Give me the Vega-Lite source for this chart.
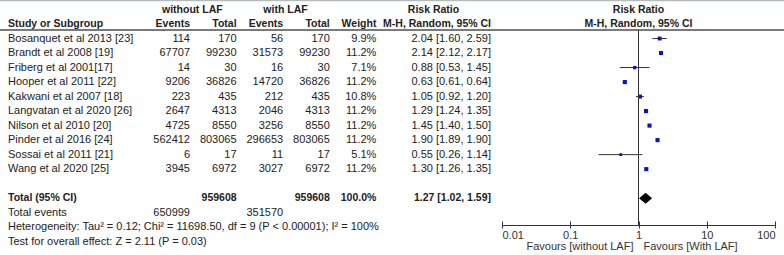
{
  "$schema": "https://vega.github.io/schema/vega-lite/v6.json",
  "width": 784,
  "height": 255,
  "padding": 0,
  "autosize": {"type": "none"},
  "background": "white",
  "config": {
    "view": {"stroke": null},
    "text": {"font": "Liberation Sans", "fontSize": 11, "color": "#222"},
    "axis": {"labelFont": "Liberation Sans", "labelFontSize": 11}
  },
  "datasets": {
    "rows": [
      {"key": "Bosanquet et al 2013 [23]", "kind": "study", "e1": 114, "t1": 170, "e2": 56, "t2": 170, "weight": 9.9, "rr": 2.04, "lo": 1.60, "hi": 2.59},
      {"key": "Brandt et al 2008 [19]", "kind": "study", "e1": 67707, "t1": 99230, "e2": 31573, "t2": 99230, "weight": 11.2, "rr": 2.14, "lo": 2.12, "hi": 2.17},
      {"key": "Friberg et al 2001[17]", "kind": "study", "e1": 14, "t1": 30, "e2": 16, "t2": 30, "weight": 7.1, "rr": 0.88, "lo": 0.53, "hi": 1.45},
      {"key": "Hooper et al 2011 [22]", "kind": "study", "e1": 9206, "t1": 36826, "e2": 14720, "t2": 36826, "weight": 11.2, "rr": 0.63, "lo": 0.61, "hi": 0.64},
      {"key": "Kakwani et al 2007 [18]", "kind": "study", "e1": 223, "t1": 435, "e2": 212, "t2": 435, "weight": 10.8, "rr": 1.05, "lo": 0.92, "hi": 1.20},
      {"key": "Langvatan et al 2020 [26]", "kind": "study", "e1": 2647, "t1": 4313, "e2": 2046, "t2": 4313, "weight": 11.2, "rr": 1.29, "lo": 1.24, "hi": 1.35},
      {"key": "Nilson et al 2010 [20]", "kind": "study", "e1": 4725, "t1": 8550, "e2": 3256, "t2": 8550, "weight": 11.2, "rr": 1.45, "lo": 1.40, "hi": 1.50},
      {"key": "Pinder et al 2016 [24]", "kind": "study", "e1": 562412, "t1": 803065, "e2": 296653, "t2": 803065, "weight": 11.2, "rr": 1.90, "lo": 1.89, "hi": 1.90},
      {"key": "Sossai et al 2011 [21]", "kind": "study", "e1": 6, "t1": 17, "e2": 11, "t2": 17, "weight": 5.1, "rr": 0.55, "lo": 0.26, "hi": 1.14},
      {"key": "Wang et al 2020 [25]", "kind": "study", "e1": 3945, "t1": 6972, "e2": 3027, "t2": 6972, "weight": 11.2, "rr": 1.30, "lo": 1.26, "hi": 1.35},
      {"key": "Total (95% CI)", "kind": "total", "t1": 959608, "t2": 959608, "weight": 100, "rr": 1.27, "lo": 1.02, "hi": 1.59},
      {"key": "Total events", "kind": "events", "e1": 650999, "e2": 351570},
      {"key": "Heterogeneity: Tau² = 0.12; Chi² = 11698.50, df = 9 (P < 0.00001); I² = 100%", "kind": "note"},
      {"key": "Test for overall effect: Z = 2.11 (P = 0.03)", "kind": "note"}
    ],
    "headers": [
      {"key": "hdr1", "col": "t1", "text": "without LAF"},
      {"key": "hdr1", "col": "t2", "text": "with LAF"},
      {"key": "hdr2", "col": "e1", "text": "Events"},
      {"key": "hdr2", "col": "t1", "text": "Total"},
      {"key": "hdr2", "col": "e2", "text": "Events"},
      {"key": "hdr2", "col": "t2", "text": "Total"},
      {"key": "hdr2", "col": "wl", "text": "Weight"},
      {"key": "hdr2", "col": "study", "text": "Study or Subgroup"},
      {"key": "hdr1", "col": "ci", "text": "Risk Ratio"},
      {"key": "hdr2", "col": "ci", "text": "M-H, Random, 95% CI"},
      {"key": "hdr1", "col": "forest", "text": "Risk Ratio"},
      {"key": "hdr2", "col": "forest", "text": "M-H, Random, 95% CI"},
      {"key": "Test for overall effect: Z = 2.11 (P = 0.03)", "col": "forest_l", "text": "Favours [without LAF]"},
      {"key": "Test for overall effect: Z = 2.11 (P = 0.03)", "col": "forest_r", "text": "Favours [With LAF]"}
    ]
  },
  "data": {"name": "rows"},
  "encoding": {
    "y": {
      "field": "key", "type": "nominal", "axis": null,
      "scale": {
        "type": "point",
        "domain": ["hdr1", "hdr2", "Bosanquet et al 2013 [23]", "Brandt et al 2008 [19]", "Friberg et al 2001[17]", "Hooper et al 2011 [22]", "Kakwani et al 2007 [18]", "Langvatan et al 2020 [26]", "Nilson et al 2010 [20]", "Pinder et al 2016 [24]", "Sossai et al 2011 [21]", "Wang et al 2020 [25]", "gap", "Total (95% CI)", "Total events", "Heterogeneity: Tau² = 0.12; Chi² = 11698.50, df = 9 (P < 0.00001); I² = 100%", "Test for overall effect: Z = 2.11 (P = 0.03)"],
        "padding": 0.786,
        "align": 0.417
      }
    }
  },
  "resolve": {"scale": {"x": "independent"}, "axis": {"x": "independent"}},
  "layer": [
    {
      "data": {"values": [{}]},
      "mark": {"type": "rule", "color": "#b4bcbc", "strokeWidth": 1.5, "yOffset": -9},
      "encoding": {"y": {"datum": "hdr1"}}
    },
    {
      "data": {"values": [{}]},
      "mark": {"type": "rule", "color": "#7a7a7a", "strokeWidth": 2, "yOffset": -8.5},
      "encoding": {"y": {"datum": "Bosanquet et al 2013 [23]"}}
    },
    {
      "layer": [
        {
          "transform": [{"filter": "datum.kind !== 'total'"}],
          "mark": {"type": "text", "align": "left"},
          "encoding": {
            "x": {"datum": "study", "type": "nominal", "bandPosition": 0, "axis": null, "scale": {"type": "band", "domain": ["study"], "range": [8, 143], "paddingInner": 0, "paddingOuter": 0}},
            "text": {"field": "key"}
          }
        },
        {
          "transform": [{"filter": "datum.kind === 'total'"}],
          "mark": {"type": "text", "align": "left", "fontWeight": "bold", "fontSize": 10.5},
          "encoding": {
            "x": {"datum": "study", "type": "nominal", "bandPosition": 0, "axis": null, "scale": {"type": "band", "domain": ["study"], "range": [8, 143], "paddingInner": 0, "paddingOuter": 0}},
            "text": {"field": "key"}
          }
        },
        {
          "data": {"name": "headers"},
          "transform": [{"filter": "datum.col === 'study'"}],
          "mark": {"type": "text", "align": "left", "fontWeight": "bold", "fontSize": 10.5},
          "encoding": {
            "x": {"datum": "study", "type": "nominal", "bandPosition": 0, "axis": null, "scale": {"type": "band", "domain": ["study"], "range": [8, 143], "paddingInner": 0, "paddingOuter": 0}},
            "text": {"field": "text"}
          }
        }
      ]
    },
    {
      "layer": [
        {
          "transform": [
            {"calculate": "isValid(datum.weight) ? format(datum.weight, '.1f') + '%' : null", "as": "wl"},
            {"fold": ["e1", "t1", "e2", "t2", "wl"], "as": ["col", "val"]},
            {"filter": "isValid(datum.val) && datum.kind !== 'total'"}
          ],
          "mark": {"type": "text", "align": "right"},
          "encoding": {
            "x": {"field": "col", "type": "nominal", "bandPosition": 1, "axis": null, "scale": {"type": "band", "domain": ["e1", "t1", "e2", "t2", "wl"], "range": [143.4, 376.4], "paddingInner": 0, "paddingOuter": 0}},
            "text": {"field": "val", "type": "nominal"}
          }
        },
        {
          "transform": [
            {"calculate": "isValid(datum.weight) ? format(datum.weight, '.1f') + '%' : null", "as": "wl"},
            {"fold": ["e1", "t1", "e2", "t2", "wl"], "as": ["col", "val"]},
            {"filter": "isValid(datum.val) && datum.kind === 'total'"}
          ],
          "mark": {"type": "text", "align": "right", "fontWeight": "bold", "fontSize": 10.5},
          "encoding": {
            "x": {"field": "col", "type": "nominal", "bandPosition": 1, "axis": null, "scale": {"type": "band", "domain": ["e1", "t1", "e2", "t2", "wl"], "range": [143.4, 376.4], "paddingInner": 0, "paddingOuter": 0}},
            "text": {"field": "val", "type": "nominal"}
          }
        },
        {
          "data": {"name": "headers"},
          "transform": [{"filter": "datum.key === 'hdr2' && indexof(['e1','t1','e2','t2','wl'], datum.col) >= 0"}],
          "mark": {"type": "text", "align": "right", "fontWeight": "bold", "fontSize": 10.5},
          "encoding": {
            "x": {"field": "col", "type": "nominal", "bandPosition": 1, "axis": null, "scale": {"type": "band", "domain": ["e1", "t1", "e2", "t2", "wl"], "range": [143.4, 376.4], "paddingInner": 0, "paddingOuter": 0}},
            "text": {"field": "text"}
          }
        },
        {
          "data": {"name": "headers"},
          "transform": [{"filter": "datum.key === 'hdr1' && indexof(['t1','t2'], datum.col) >= 0"}],
          "mark": {"type": "text", "align": "center", "fontWeight": "bold", "fontSize": 10.5},
          "encoding": {
            "x": {"field": "col", "type": "nominal", "bandPosition": 0.05, "axis": null, "scale": {"type": "band", "domain": ["e1", "t1", "e2", "t2", "wl"], "range": [143.4, 376.4], "paddingInner": 0, "paddingOuter": 0}},
            "text": {"field": "text"}
          }
        }
      ]
    },
    {
      "layer": [
        {
          "transform": [
            {"filter": "datum.kind === 'study'"},
            {"calculate": "format(datum.rr, '.2f') + ' [' + format(datum.lo, '.2f') + ', ' + format(datum.hi, '.2f') + ']'", "as": "cil"}
          ],
          "mark": {"type": "text", "align": "right"},
          "encoding": {
            "x": {"datum": "ci", "type": "nominal", "bandPosition": 1, "axis": null, "scale": {"type": "band", "domain": ["ci"], "range": [376, 491], "paddingInner": 0, "paddingOuter": 0}},
            "text": {"field": "cil"}
          }
        },
        {
          "transform": [
            {"filter": "datum.kind === 'total'"},
            {"calculate": "format(datum.rr, '.2f') + ' [' + format(datum.lo, '.2f') + ', ' + format(datum.hi, '.2f') + ']'", "as": "cil"}
          ],
          "mark": {"type": "text", "align": "right", "fontWeight": "bold", "fontSize": 10.5},
          "encoding": {
            "x": {"datum": "ci", "type": "nominal", "bandPosition": 1, "axis": null, "scale": {"type": "band", "domain": ["ci"], "range": [376, 491], "paddingInner": 0, "paddingOuter": 0}},
            "text": {"field": "cil"}
          }
        },
        {
          "data": {"name": "headers"},
          "transform": [{"filter": "datum.col === 'ci' && datum.key === 'hdr2'"}],
          "mark": {"type": "text", "align": "right", "fontWeight": "bold", "fontSize": 10.5},
          "encoding": {
            "x": {"datum": "ci", "type": "nominal", "bandPosition": 1, "axis": null, "scale": {"type": "band", "domain": ["ci"], "range": [376, 491], "paddingInner": 0, "paddingOuter": 0}},
            "text": {"field": "text"}
          }
        },
        {
          "data": {"name": "headers"},
          "transform": [{"filter": "datum.col === 'ci' && datum.key === 'hdr1'"}],
          "mark": {"type": "text", "align": "center", "fontWeight": "bold", "fontSize": 10.5},
          "encoding": {
            "x": {"datum": "ci", "type": "nominal", "bandPosition": 0.5, "axis": null, "scale": {"type": "band", "domain": ["ci"], "range": [376, 491], "paddingInner": 0, "paddingOuter": 0}},
            "text": {"field": "text"}
          }
        }
      ]
    },
    {
      "layer": [
        {
          "data": {"values": [{}]},
          "mark": {"type": "point", "opacity": 0},
          "encoding": {
            "x": {
              "datum": 1, "type": "quantitative", "title": null,
              "scale": {"type": "log", "domain": [0.01, 100], "range": [502, 775], "nice": false},
              "axis": {"orient": "top", "values": [0.01, 0.1, 1, 10, 100], "offset": -225, "tickSize": 4, "labels": false, "domain": false, "tickColor": "#333", "grid": false, "title": null}
            },
            "y": {"datum": "gap"}
          }
        }
      ]
    },
    {
      "layer": [
        {
          "transform": [{"filter": "datum.kind === 'study'"}],
          "mark": {"type": "rule", "color": "#333", "strokeWidth": 1},
          "encoding": {
            "x": {
              "field": "lo", "type": "quantitative", "title": null,
              "scale": {"type": "log", "domain": [0.01, 100], "range": [502, 775], "nice": false},
              "axis": {"values": [0.01, 0.1, 1, 10, 100], "format": "~g", "offset": -30, "tickSize": 3, "labelFlush": true, "labelPadding": 1, "domainColor": "#333", "tickColor": "#333", "labelColor": "#333", "grid": false, "title": null}
            },
            "x2": {"field": "hi"}
          }
        },
        {
          "transform": [{"filter": "datum.kind === 'study'"}],
          "mark": {"type": "point", "shape": "square", "filled": true, "color": "#0a12c8", "opacity": 1, "strokeWidth": 0},
          "encoding": {
            "x": {"field": "rr", "type": "quantitative", "title": null, "scale": {"type": "log", "domain": [0.01, 100], "range": [502, 775], "nice": false}},
            "size": {"field": "weight", "type": "quantitative", "legend": null, "scale": {"domain": [0, 11.2], "range": [0, 17]}}
          }
        },
        {
          "transform": [{"filter": "datum.kind === 'total'"}],
          "mark": {"type": "point", "shape": "M-1,0L0,-0.85L1,0L0,0.85Z", "filled": true, "color": "#000", "opacity": 1, "size": 169, "strokeWidth": 0},
          "encoding": {
            "x": {"field": "rr", "type": "quantitative", "title": null, "scale": {"type": "log", "domain": [0.01, 100], "range": [502, 775], "nice": false}}
          }
        },
        {
          "data": {"values": [{}]},
          "mark": {"type": "rule", "color": "#333", "strokeWidth": 1, "yOffset": -8.5, "y2Offset": -2},
          "encoding": {
            "x": {"datum": 1, "type": "quantitative", "title": null, "scale": {"type": "log", "domain": [0.01, 100], "range": [502, 775], "nice": false}},
            "y": {"datum": "Bosanquet et al 2013 [23]"},
            "y2": {"datum": "Heterogeneity: Tau² = 0.12; Chi² = 11698.50, df = 9 (P < 0.00001); I² = 100%"}
          }
        },
        {
          "data": {"name": "headers"},
          "transform": [{"filter": "datum.col === 'forest'"}],
          "mark": {"type": "text", "align": "center", "fontWeight": "bold", "fontSize": 10.5},
          "encoding": {
            "x": {"datum": 1, "type": "quantitative", "title": null, "scale": {"type": "log", "domain": [0.01, 100], "range": [502, 775], "nice": false}},
            "text": {"field": "text"}
          }
        },
        {
          "data": {"name": "headers"},
          "transform": [{"filter": "datum.col === 'forest_l'"}],
          "mark": {"type": "text", "align": "right", "dx": -5, "dy": 5, "color": "#333"},
          "encoding": {
            "x": {"datum": 1, "type": "quantitative", "title": null, "scale": {"type": "log", "domain": [0.01, 100], "range": [502, 775], "nice": false}},
            "text": {"field": "text"}
          }
        },
        {
          "data": {"name": "headers"},
          "transform": [{"filter": "datum.col === 'forest_r'"}],
          "mark": {"type": "text", "align": "left", "dx": 5, "dy": 5, "color": "#333"},
          "encoding": {
            "x": {"datum": 1, "type": "quantitative", "title": null, "scale": {"type": "log", "domain": [0.01, 100], "range": [502, 775], "nice": false}},
            "text": {"field": "text"}
          }
        }
      ]
    }
  ]
}
